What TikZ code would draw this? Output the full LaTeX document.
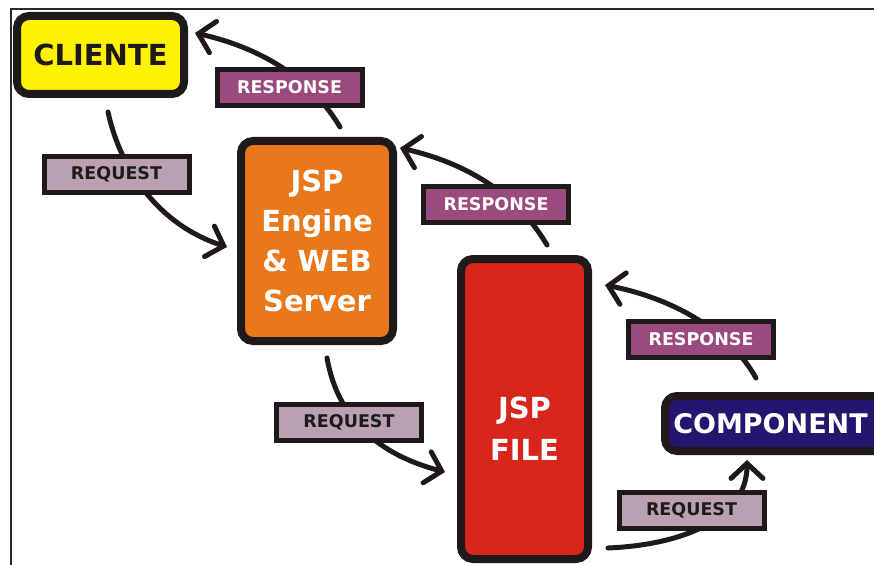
\documentclass[tikz,border=0pt]{standalone}
\usepackage{fontspec}
\setmainfont{DejaVu Sans}
\usetikzlibrary{arrows.meta,calc}
\definecolor{cyellow}{HTML}{FFF200}
\definecolor{corange}{HTML}{E8781A}
\definecolor{cred}{HTML}{D8261C}
\definecolor{cnavy}{HTML}{24166E}
\definecolor{cresp}{HTML}{9A4A7C}
\definecolor{creq}{HTML}{B9A1B1}
\definecolor{cink}{HTML}{1E1A1A}
\definecolor{cframe}{HTML}{2A2A2A}
\begin{document}
\begin{tikzpicture}[x=1pt,y=-1pt,
  box/.style={draw=cink,line width=8pt,rounded corners=12pt,inner sep=0pt,align=center,
    font=\fontsize{29}{40}\selectfont\bfseries},
  lab/.style={draw=cink,line width=5pt,inner sep=0pt,minimum width=145pt,minimum height=36pt,
    font=\fontsize{17.5}{18}\selectfont\bfseries},
  resp/.style={lab,fill=cresp,text=white},
  req/.style={lab,fill=creq,text=cink},
  flow/.style={draw=cink,line width=5pt,line cap=round,
    -{Straight Barb[length=15pt,width=32pt,line cap=round]}}]
\useasboundingbox (0,0) rectangle (874,564);
\draw[cframe,line width=2pt] (11,580) -- (11,9) -- (890,9);

\node[box,fill=cyellow,text=cink,minimum width=167pt,minimum height=78pt,font=\fontsize{29}{34}\selectfont\bfseries] (cliente) at (100.5,55) {CLIENTE};
\node[box,fill=corange,text=white,minimum width=152pt,minimum height=200pt] (engine) at (317,241) {JSP\\Engine\\\& WEB\\Server};
\node[box,fill=cred,text=white,minimum width=127pt,minimum height=300pt,font=\fontsize{29}{42}\selectfont\bfseries] (file) at (524.5,409) {\mbox{}\\[18pt]JSP\\FILE};
\node[box,fill=cnavy,text=white,minimum width=223pt,minimum height=55pt,anchor=west,font=\fontsize{27}{30}\selectfont\bfseries] (comp) at (661,423.5) {\hspace*{-12pt}COMPONENT};

% connectors
\draw[flow] ($(cliente.south)+(7.5,14)$) .. controls ($(cliente.south)+(20,72)$) and ($(engine.west)+(-78,-16)$) .. ($(engine.west)+(-10,6)$);
\draw[flow] ($(engine.north)+(23,-10)$) .. controls ($(engine.north)+(-2,-52)$) and ($(cliente.east)+(82,-5)$) .. ($(cliente.east)+(7,-22)$);
\draw[flow] ($(file.north)+(22.5,-10)$) .. controls ($(file.north)+(-4,-55)$) and ($(engine.north east)+(78,28)$) .. ($(engine.north east)+(3,11)$);
\draw[flow] ($(engine.south)+(10,13)$) .. controls ($(engine.south)+(21,75)$) and ($(file.west)+(-77,46)$) .. ($(file.west)+(-12,63)$);
\draw[flow] ($(comp.north west)+(95,-14)$) .. controls ($(comp.north west)+(71,-57)$) and ($(file.north east)+(88,45)$) .. ($(file.north east)+(13,30)$);
\draw[flow] ($(file.south east)+(16,-15)$) .. controls ($(file.south east)+(88,-18)$) and ($(comp.south west)+(86,65)$) .. ($(comp.south west)+(86,5)$);

% labels
\node[resp] (r1) at (289.5,87.5) {RESPONSE};
\node[req]  (q1) at (116.5,174.5) {REQUEST};
\node[resp] (r2) at (496,204) {RESPONSE};
\node[req]  (q2) at (349,422.5) {REQUEST};
\node[resp] (r3) at (701,339) {RESPONSE};
\node[req]  (q3) at (691.5,510.5) {REQUEST};
\end{tikzpicture}
\end{document}
